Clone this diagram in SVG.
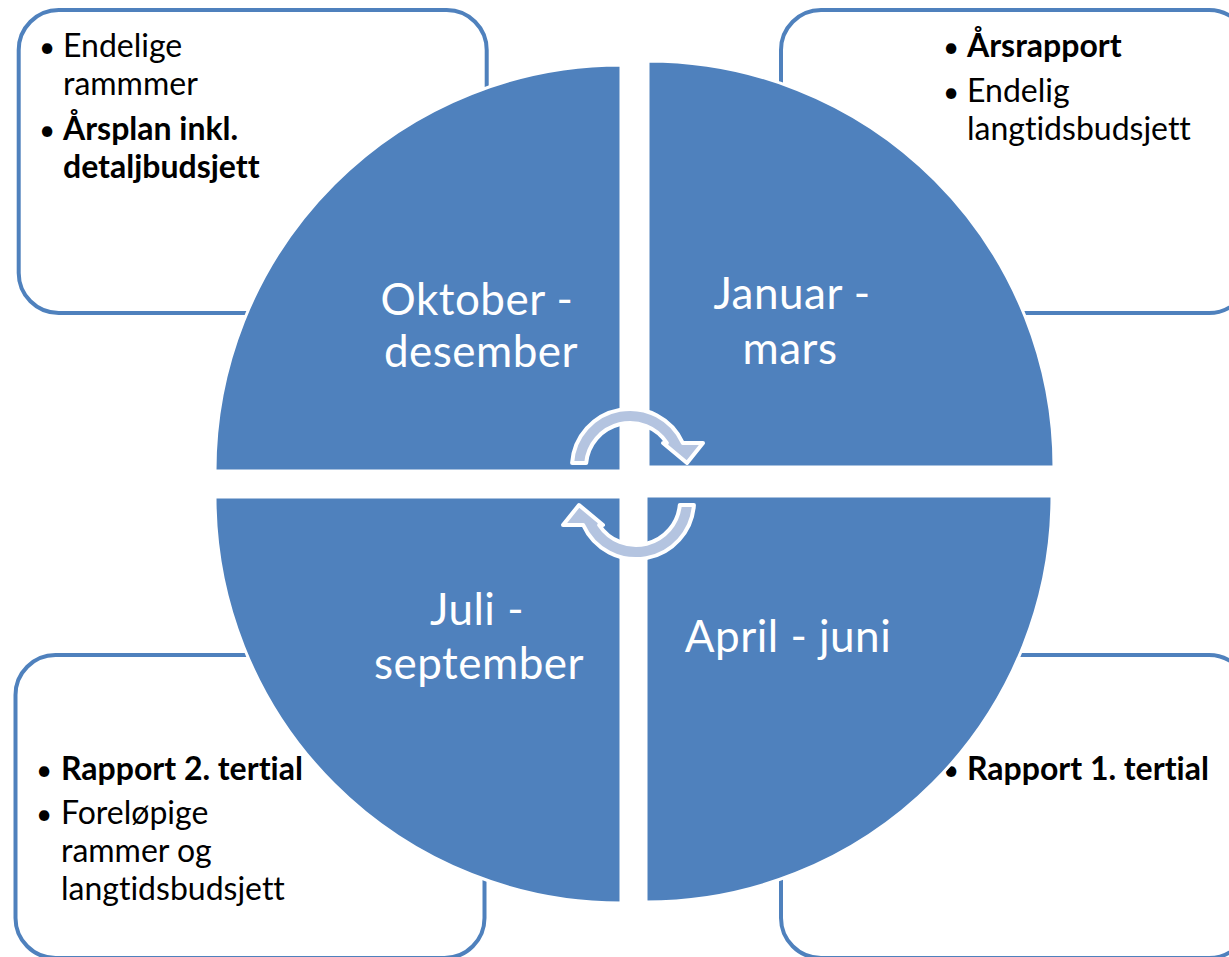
<svg xmlns="http://www.w3.org/2000/svg" width="1229" height="957" viewBox="0 0 1229 957">
<style>
.box{fill:#fff;stroke:#4F81BD;stroke-width:4}
.q{fill:#4F81BD;stroke:#fff;stroke-width:3}
.big{font-family:Lato,"Liberation Sans",sans-serif;font-size:44px;letter-spacing:0.5px;fill:#fff;text-anchor:middle;font-variant-ligatures:none}
.t{font-family:Lato,"Liberation Sans",sans-serif;font-size:32px;fill:#000;font-variant-ligatures:none}
.bul{font-family:Lato,"Liberation Sans",sans-serif;font-size:28px;fill:#000}
.b{font-weight:bold}
.arr{fill:#B4C4E0;stroke:#fff;stroke-width:4;stroke-linejoin:round}
</style>
<rect width="1229" height="957" fill="#fff"/>
<g id="box-okt-des">
<rect class="box" x="18.7" y="10" width="468" height="303" rx="40"/>
<text class="bul" x="39" y="57">•</text><text class="t" x="63" y="57">Endelige</text>
<text class="t" x="63" y="95">rammmer</text>
<text class="bul" x="39" y="140">•</text><text class="t b" x="63" y="140">Årsplan inkl.</text>
<text class="t b" x="63" y="178">detaljbudsjett</text>
</g>
<g id="box-jan-mar">
<rect class="box" x="781" y="10" width="468" height="303" rx="40"/>
<text class="bul" x="943" y="57">•</text><text class="t b" x="967" y="57">Årsrapport</text>
<text class="bul" x="943" y="102">•</text><text class="t" x="967" y="102">Endelig</text>
<text class="t" x="967" y="140">langtidsbudsjett</text>
</g>
<g id="box-jul-sep">
<rect class="box" x="15.5" y="655" width="469" height="303" rx="40"/>
<text class="bul" x="36" y="780">•</text><text class="t b" x="61" y="780">Rapport 2. tertial</text>
<text class="bul" x="36" y="824">•</text><text class="t" x="61" y="824">Foreløpige</text>
<text class="t" x="61" y="862">rammer og</text>
<text class="t" x="61" y="900">langtidsbudsjett</text>
</g>
<g id="box-apr-jun">
<rect class="box" x="781" y="655" width="468" height="303" rx="40"/>
<text class="bul" x="943" y="780">•</text><text class="t b" x="967" y="780">Rapport 1. tertial</text>
</g>
<g id="q-okt-des">
<path class="q" d="M621,471 L215,471 A406,406 0 0 1 621,65 Z"/>
<text class="big" x="477" y="315">Oktober -</text>
<text class="big" x="481" y="367">desember</text>
</g>
<g id="q-jan-mar">
<path class="q" d="M648,467 L648,61 A406,406 0 0 1 1054,467 Z"/>
<text class="big" x="792" y="309">Januar -</text>
<text class="big" x="790" y="364">mars</text>
</g>
<g id="q-apr-jun">
<path class="q" d="M646,496 L1052,496 A406,406 0 0 1 646,902 Z"/>
<text class="big" x="788" y="652">April - juni</text>
</g>
<g id="q-jul-sep">
<path class="q" d="M621,497 L621,903 A406,406 0 0 1 215,497 Z"/>
<text class="big" x="477" y="625">Juli -</text>
<text class="big" x="479" y="679">september</text>
</g>
<g id="connectors">
<path id="arrow-top" class="arr" d="M572.1,463 A58,58 0 0 1 682.8,443 L703,443 L687,463 L663,443 L666.9,443 A44,44 0 0 0 586.2,463 Z"/>
<path id="arrow-bottom" class="arr" transform="rotate(180 633 484)" d="M572.1,463 A58,58 0 0 1 682.8,443 L703,443 L687,463 L663,443 L666.9,443 A44,44 0 0 0 586.2,463 Z"/>
</g>
</svg>
